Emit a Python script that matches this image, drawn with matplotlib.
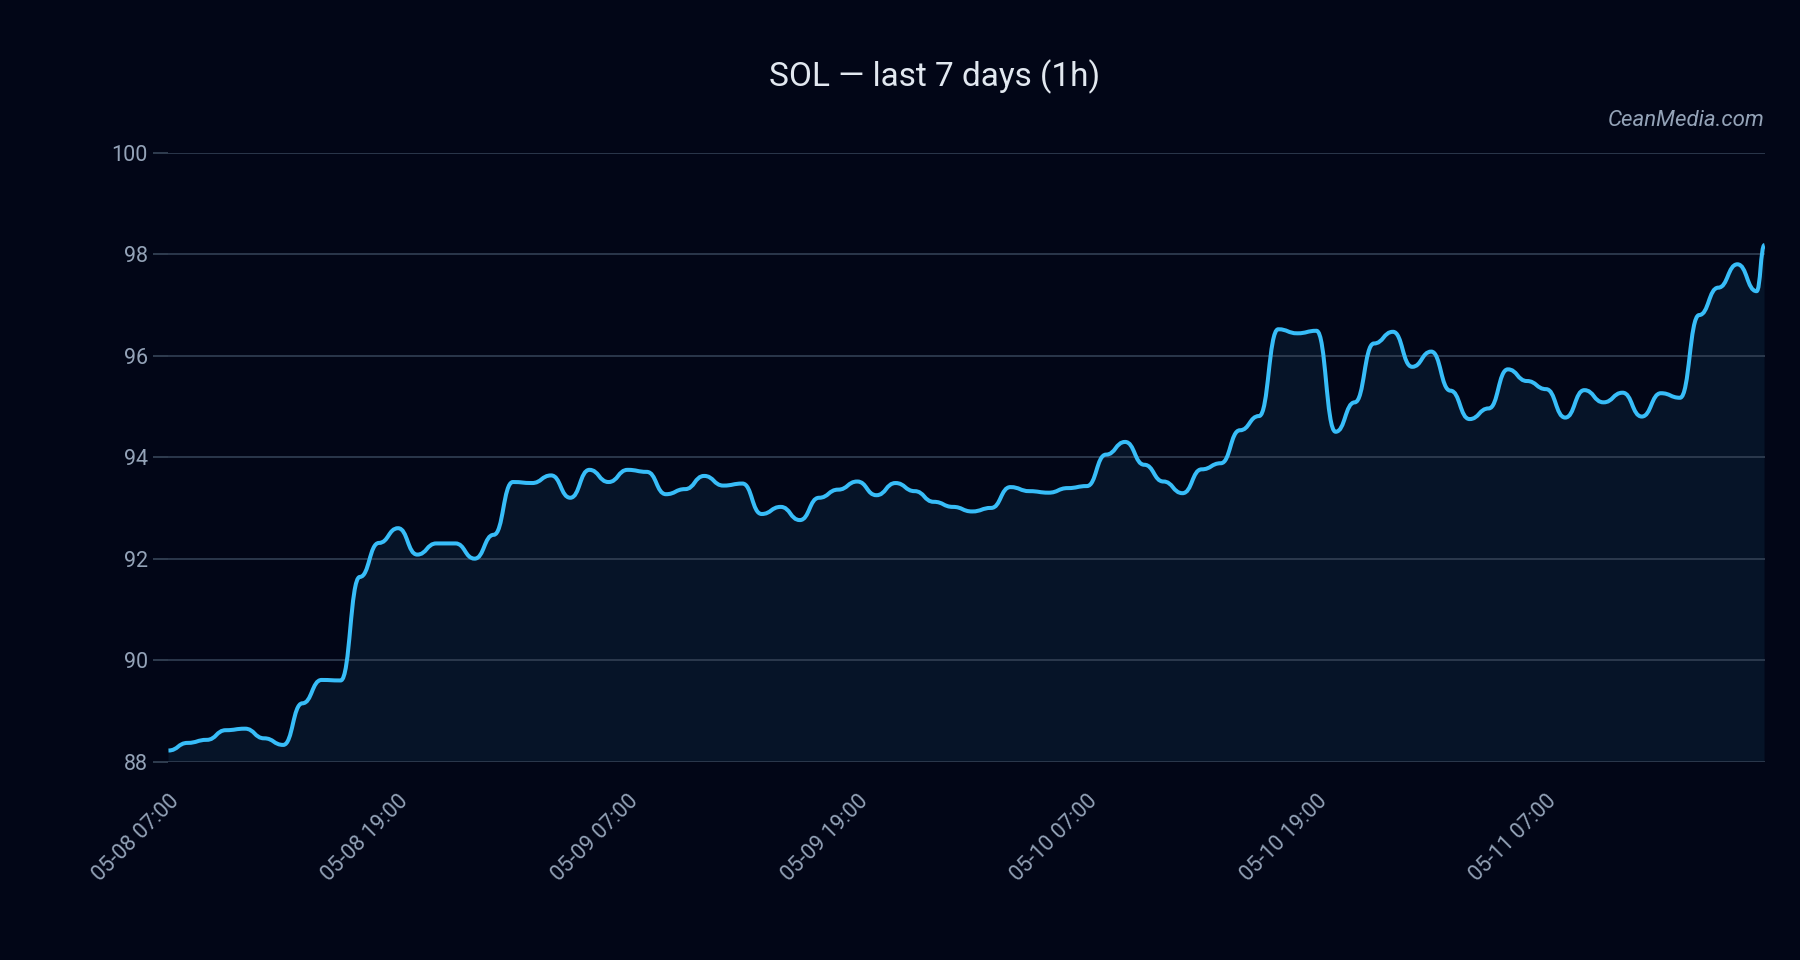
import matplotlib as mpl
mpl.use("Agg")
import matplotlib.pyplot as plt
import matplotlib.dates as mdates
from matplotlib.path import Path
from matplotlib.patches import PathPatch
import numpy as np
import pandas as pd

# ---- data (hourly closes, last value = live price) ----
start_time = "2025-05-08 07:00"
n_hours = 84
last_time = "2025-05-11 18:25"

prices = [
    88.22, 88.37, 88.43, 88.62, 88.65, 88.46, 88.33, 89.15, 89.61, 89.60,
    91.64, 92.31, 92.60, 92.08, 92.30, 92.30, 92.00, 92.47, 93.51, 93.49,
    93.64, 93.20, 93.75, 93.51, 93.75, 93.71, 93.27, 93.37, 93.63, 93.44,
    93.48, 92.88, 93.02, 92.76, 93.20, 93.36, 93.52, 93.25, 93.49, 93.33,
    93.12, 93.02, 92.93, 93.00, 93.41, 93.33, 93.30, 93.39, 93.43, 94.05,
    94.30, 93.85, 93.52, 93.29, 93.76, 93.88, 94.53, 94.81, 96.52, 96.44,
    96.49, 94.50, 95.08, 96.24, 96.47, 95.78, 96.08, 95.31, 94.75, 94.96,
    95.73, 95.50, 95.34, 94.78, 95.32, 95.08, 95.27, 94.80, 95.26, 95.17,
    96.80, 97.34, 97.80, 97.27, 98.18,
]

y_ticks = [88, 90, 92, 94, 96, 98, 100]
title = "SOL — last 7 days (1h)"
watermark = "CeanMedia.com"

# colors
bg = "#020617"
line_c = "#38bdf8"
grid_c = "#334155"
tick_c = "#94a3b8"
title_c = "#e2e8f0"

times = list(pd.date_range(start_time, periods=n_hours, freq="h")) + [pd.Timestamp(last_time)]
x = mdates.date2num(times)
y = np.array(prices)

plt.rcParams["font.family"] = ["Roboto", "DejaVu Sans"]

fig = plt.figure(figsize=(18, 9.6), dpi=100, facecolor=bg)
ax = fig.add_axes([0.0936, 0.2066, 0.8867, 0.6344])
ax.set_facecolor(bg)

# smooth "bump" curve: horizontal tangent at every point
verts = [(x[0], y[0])]
codes = [Path.MOVETO]
for i in range(1, len(x)):
    xm = (x[i - 1] + x[i]) / 2
    verts += [(xm, y[i - 1]), (xm, y[i]), (x[i], y[i])]
    codes += [Path.CURVE4] * 3

y_min, y_max = y_ticks[0], y_ticks[-1]

# area under the curve
area_verts = verts + [(x[-1], y_min), (x[0], y_min), (x[0], y[0])]
area_codes = codes + [Path.LINETO, Path.LINETO, Path.CLOSEPOLY]
ax.add_patch(PathPatch(Path(area_verts, area_codes), facecolor=line_c, alpha=0.08,
                       edgecolor="none", zorder=1))

# the line
ax.add_patch(PathPatch(Path(verts, codes), facecolor="none", edgecolor=line_c,
                       linewidth=2.9, capstyle="butt", joinstyle="round", zorder=3))

ax.set_xlim(x[0], x[-1])
ax.set_ylim(y_min, y_max)

# grid
ax.set_yticks(y_ticks)
ax.grid(axis="y", color=grid_c, linewidth=1.3, alpha=0.9, zorder=0)
ax.grid(axis="x", visible=False)
for s in ax.spines.values():
    s.set_visible(False)

# ticks
ax.xaxis.set_major_locator(mdates.HourLocator(byhour=[7, 19]))
ax.xaxis.set_major_formatter(mdates.DateFormatter("%m-%d %H:%M"))
ax.tick_params(axis="y", colors=grid_c, length=11, width=1.3, pad=4, labelsize=15.5,
               labelcolor=tick_c)
ax.tick_params(axis="x", length=0, pad=21, labelsize=15.5, labelcolor=tick_c)
plt.setp(ax.get_xticklabels(), rotation=45, ha="right", rotation_mode="anchor")

fig.text(0.519, 0.92, title, ha="center", va="center", fontsize=24, color=title_c)
fig.text(0.9803, 0.874, watermark, ha="right", va="center", fontsize=16,
         style="italic", color=tick_c)

fig.savefig("out.png", dpi=100, facecolor=bg)
